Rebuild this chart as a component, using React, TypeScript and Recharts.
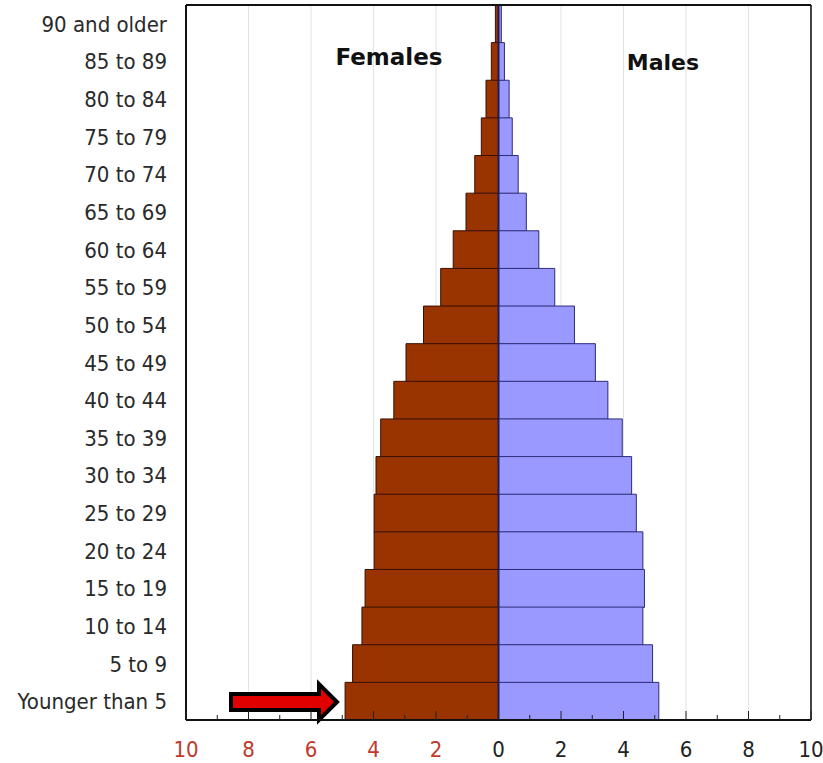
import { BarChart, Bar, XAxis, YAxis, CartesianGrid, ReferenceLine, Customized } from 'recharts'

// age bands, top of the pyramid first
const ageGroups = [
  '90 and older', '85 to 89', '80 to 84', '75 to 79', '70 to 74', '65 to 69', '60 to 64',
  '55 to 59', '50 to 54', '45 to 49', '40 to 44', '35 to 39', '30 to 34', '25 to 29',
  '20 to 24', '15 to 19', '10 to 14', '5 to 9', 'Younger than 5',
]

// percent of population
const females = [0.1, 0.23, 0.4, 0.55, 0.76, 1.04, 1.45, 1.85, 2.4, 2.96, 3.35, 3.77, 3.92, 3.98, 3.98, 4.27, 4.37, 4.67, 4.91]
const males = [0.09, 0.19, 0.34, 0.44, 0.63, 0.89, 1.29, 1.8, 2.43, 3.1, 3.5, 3.96, 4.26, 4.41, 4.62, 4.67, 4.62, 4.93, 5.13]

const allTicks = [-10, -9, -8, -7, -6, -5, -4, -3, -2, -1, 0, 1, 2, 3, 4, 5, 6, 7, 8, 9, 10]
const gridTicks = [-10, -8, -6, -4, -2, 0, 2, 4, 6, 8, 10]

const FONT = '"DejaVu Sans Condensed", "DejaVu Sans", Verdana, sans-serif'

const data = ageGroups.map((age, i) => ({
  age,
  Females: -females[i],
  Males: males[i],
}))

function BottomTick({ x, y, payload }: any) {
  const v = payload.value
  const major = v % 2 === 0
  return (
    <g>
      <line x1={x} x2={x} y1={y} y2={y - (major ? 9 : 5)} stroke="#222" />
      {major && (
        <text x={x} y={y + 37} textAnchor="middle" fontSize={22} fontFamily={FONT} fill={v < 0 ? '#c0392b' : '#222'}>
          {Math.abs(v)}
        </text>
      )}
    </g>
  )
}

function TopTick({ x, y, payload }: any) {
  const major = payload.value % 2 === 0
  return <line x1={x} x2={x} y1={y} y2={y + (major ? 9 : 6)} stroke="#222" />
}

function AgeTick({ x, y, payload }: any) {
  return (
    <text x={x - 11} y={y} dy={8} textAnchor="end" fontSize={22} fontFamily={FONT} fill="#2a2a2a">
      {payload.value}
    </text>
  )
}

function Annotations() {
  return (
    <g>
      <text x={389} y={65} textAnchor="middle" fontSize={23} fontWeight="bold" fontFamily='"DejaVu Sans", Verdana, sans-serif' fill="#111">
        Females
      </text>
      <text x={663} y={70} textAnchor="middle" fontSize={22} fontWeight="bold" fontFamily='"DejaVu Sans", Verdana, sans-serif' fill="#111">
        Males
      </text>
      {/* red arrow pointing at the youngest female bar */}
      <polygon
        points="231,694 319,694 319,684 337,702 319,720 319,710 231,710"
        fill="#e00000"
        stroke="#000"
        strokeWidth={4}
        strokeLinejoin="miter"
      />
    </g>
  )
}

export default function App() {
  return (
    <div style={{ position: 'absolute', left: 0, top: 0 }}>
      <BarChart
        width={823}
        height={763}
        data={data}
        layout="vertical"
        stackOffset="sign"
        barCategoryGap={0}
        margin={{ top: 4, right: 12, bottom: 0, left: 0 }}
      >
        <CartesianGrid horizontal={false} verticalValues={gridTicks} stroke="#e2e2e2" />
        <XAxis
          type="number"
          domain={[-10, 10]}
          ticks={allTicks}
          interval={0}
          height={43}
          tickSize={0}
          tickMargin={0}
          tickLine={false}
          axisLine={{ stroke: '#111', strokeWidth: 2 }}
          tick={<BottomTick />}
        />
        <XAxis
          xAxisId="top"
          orientation="top"
          type="number"
          domain={[-10, 10]}
          ticks={allTicks}
          interval={0}
          height={1}
          tickSize={0}
          tickMargin={0}
          tickLine={false}
          axisLine={{ stroke: '#111', strokeWidth: 2 }}
          tick={<TopTick />}
        />
        <YAxis
          type="category"
          dataKey="age"
          width={186}
          interval={0}
          tickLine={false}
          axisLine={{ stroke: '#111', strokeWidth: 2 }}
          tick={<AgeTick />}
        />
        <Bar dataKey="Females" stackId="pop" fill="#993300" stroke="#3a1000" strokeWidth={1} isAnimationActive={false} />
        <Bar dataKey="Males" stackId="pop" fill="#9999ff" stroke="#2c2c7a" strokeWidth={1} isAnimationActive={false} />
        <ReferenceLine x={0} stroke="#1c1c55" strokeWidth={2} />
        <ReferenceLine x={10} stroke="#444" strokeWidth={2} />
        <Customized component={<Annotations />} />
      </BarChart>
    </div>
  )
}
